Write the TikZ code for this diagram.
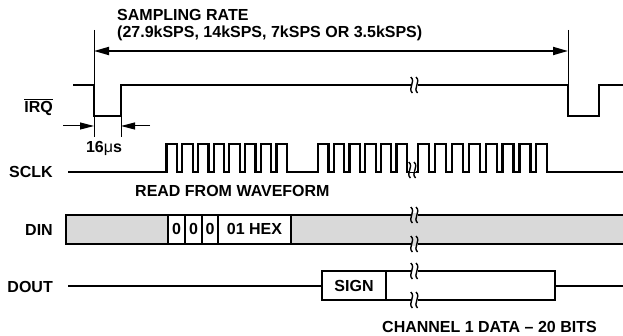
\documentclass[tikz,border=0pt]{standalone}
\usepackage{fontspec}
\setmainfont{Liberation Sans}
\usetikzlibrary{arrows.meta}
\definecolor{dingrey}{RGB}{217,217,217}
\begin{document}
\begin{tikzpicture}[x=1pt,y=-1pt,
  wave/.style={line width=2.2pt, line join=miter},
  thinl/.style={line width=0.9pt},
  txt/.style={font=\fontsize{16}{18}\selectfont\bfseries, inner sep=0pt},
  lbl/.style={txt, anchor=base west},
  rlbl/.style={txt, anchor=base east},
  ctr/.style={txt, anchor=base},
  bigarr/.style={{Triangle[length=15pt,width=8pt]}-{Triangle[length=15pt,width=8pt]}, line width=1.8pt},
  smallarr/.style={-{Triangle[length=14pt,width=7pt]}, line width=1pt},
  pics/brk/.style={code={
    \fill[#1] (-2.6,-1.8) rectangle (2.6,1.8);
    \draw[line width=1.4pt] (-4.2,-8) .. controls (1.2,-3) and (-7.8,3) .. (-2.6,8);
    \draw[line width=1.4pt] (1.0,-8) .. controls (6.4,-3) and (-2.6,3) .. (2.6,8);
  }},
  pics/brk/.default=white
]
\useasboundingbox (0,0) rectangle (623,336);

% title and sampling-rate arrow
\node[lbl] (t1) at (117,20.7) {SAMPLING RATE};
\node[lbl] (t2) at (117,37.5) {(27.9kSPS, 14kSPS, 7kSPS OR 3.5kSPS)};
\coordinate (mLtop) at (94,30);
\coordinate (mLbot) at (94,137);
\coordinate (mRtop) at (568,30);
\coordinate (mRbot) at (568,85);
\coordinate (m2top) at (121,85);
\coordinate (m2bot) at (121,137);
\draw[thinl] (mLtop) -- (mLbot);
\draw[thinl] (mRtop) -- (mRbot);
\draw[thinl] (m2top) -- (m2bot);
\coordinate (sl) at (94,51);
\coordinate (sr) at (568,51);
\draw[bigarr] (sl) -- (sr);

% IRQ
\node[rlbl] (irq) at (53,113) {IRQ};
\draw[line width=1pt] ([yshift=2.6pt]irq.north west) -- ([yshift=2.6pt]irq.north east);
\draw[wave] (73,85) -- (94,85) -- (94,116) -- (121,116) -- (121,85) -- (568,85)
  -- (568,116) -- (599,116) -- (599,85) -- (623,85);
\pic at (415,85) {brk};

% 16us
\coordinate (a1s) at (63,126);
\coordinate (a1e) at (94,126);
\coordinate (a2s) at (150,126);
\coordinate (a2e) at (121,126);
\draw[smallarr] (a1s) -- (a1e);
\draw[smallarr] (a2s) -- (a2e);
\node[ctr] (t16) at (104,152.5) {16{\mdseries μ}s};

% SCLK
\node[rlbl] (sclk) at (53,178) {SCLK};
\draw[wave] (68,172) -- (166.5,172)
  \foreach \i in {1,...,8} { -- ++(0,-28) -- ++(10.5,0) -- ++(0,28) -- ++(5.2,0) }
  -- (318,172)
  \foreach \i in {1,...,6} { -- ++(0,-28) -- ++(10.5,0) -- ++(0,28) -- ++(5.2,0) }
  -- (418,172)
  \foreach \i in {1,...,8} { -- ++(0,-28) -- ++(11,0) -- ++(0,28) -- ++(5.9,0) }
  -- (623,172);
\pic at (413,170) {brk};
\node[lbl] (rfw) at (135,196.5) {READ FROM WAVEFORM};

% DIN
\node[rlbl] (din) at (53,236) {DIN};
\fill[dingrey] (66,215) rectangle (623,244);
\fill[white] (168,215) rectangle (291,244);
\draw[wave] (623,215) -- (66,215) -- (66,244) -- (623,244);
\foreach \x in {168,185,202,218,291} { \draw[wave] (\x,215) -- (\x,244); }
\node[ctr] (b0) at (176.5,235) {0};
\node[ctr] (b1) at (193.5,235) {0};
\node[ctr] (b2) at (210,235) {0};
\node[ctr] (hex) at (254.5,235) {01 HEX};
\pic at (415,215) {brk=dingrey};
\pic at (415,244) {brk=dingrey};

% DOUT
\node[rlbl] (dout) at (53,292) {DOUT};
\draw[wave] (68,286) -- (322,286);
\draw[wave] (322,271) rectangle (555,300);
\draw[wave] (386,271) -- (386,300);
\draw[wave] (555,286) -- (623,286);
\node[ctr] (sign) at (354,291) {SIGN};
\pic at (415,271) {brk};
\pic at (415,300) {brk};
\node[lbl] (ch1) at (382,332) {CHANNEL 1 DATA – 20 BITS};
\end{tikzpicture}
\end{document}
